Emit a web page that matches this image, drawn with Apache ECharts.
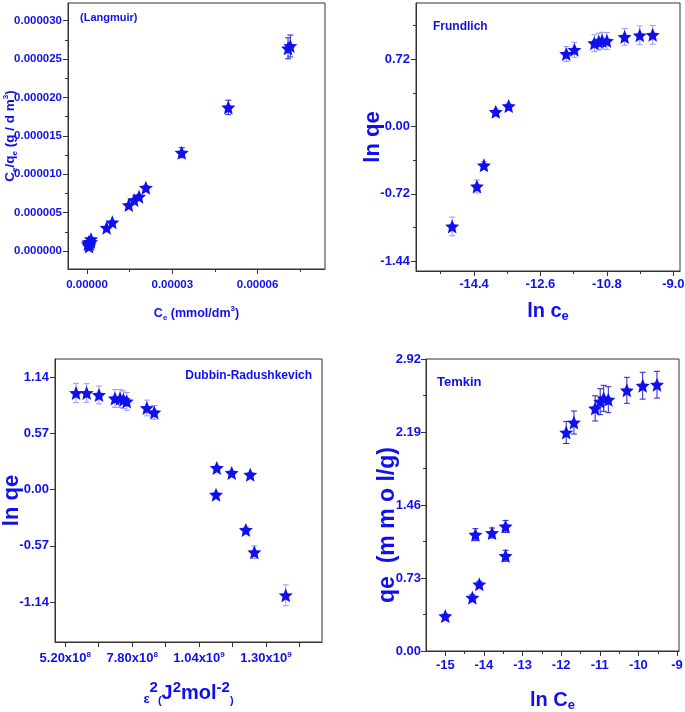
<!DOCTYPE html>
<html><head><meta charset="utf-8">
<script src="https://cdn.jsdelivr.net/npm/echarts@6/dist/echarts.min.js"></script>
<style>html,body{margin:0;padding:0;background:#fff}#c{width:685px;height:712px}</style>
</head><body><div id="c"></div>
<script>
// ---------- data ----------
const langCe  = [3.0e-7, 6.0e-7, 7.0e-7, 7.0e-7, 1.0e-6, 1.4e-6, 1.4e-6, 6.9e-6, 8.9e-6, 1.47e-5, 1.66e-5, 1.83e-5, 2.07e-5, 3.33e-5, 4.97e-5, 7.07e-5, 7.15e-5];
const langY   = [9.0e-7, 1.15e-6, 1.1e-6, 6.0e-7, 9.0e-7, 1.2e-6, 1.55e-6, 3.03e-6, 3.74e-6, 5.99e-6, 6.64e-6, 7.07e-6, 8.24e-6, 1.28e-5, 1.87e-5, 2.64e-5, 2.67e-5];
const langErr = [2e-8, 3e-8, 3e-8, 3e-8, 3e-8, 4e-8, 5e-8, 1.0e-7, 1.2e-7, 2.0e-7, 2.2e-7, 2.3e-7, 2.7e-7, 6.5e-7, 9.4e-7, 1.37e-6, 1.43e-6];

const freLnCe = [-14.99, -14.32, -14.13, -13.81, -13.46, -11.90, -11.68, -11.14, -11.02, -10.93, -10.80, -10.32, -9.91, -9.56];
const freLnQe = [-1.068, -0.64, -0.415, 0.157, 0.218, 0.775, 0.82, 0.89, 0.907, 0.917, 0.914, 0.957, 0.975, 0.98];
const freErr  = [0.10, 0.07, 0.04, 0.03, 0.03, 0.08, 0.08, 0.09, 0.09, 0.09, 0.09, 0.09, 0.10, 0.10];

const drEps2  = [5.62e8, 6.03e8, 6.51e8, 7.13e8, 7.33e8, 7.46e8, 7.59e8, 8.37e8, 8.66e8, 1.109e9, 1.106e9, 1.167e9, 1.239e9, 1.222e9, 1.255e9, 1.377e9];
const drLnQe  = [0.98, 0.98, 0.96, 0.925, 0.925, 0.912, 0.895, 0.828, 0.783, 0.22, -0.051, 0.169, 0.152, -0.409, -0.635, -1.071];
const drErr   = [0.098, 0.095, 0.09, 0.09, 0.09, 0.09, 0.09, 0.08, 0.07, 0.02, 0.02, 0.02, 0.02, 0.03, 0.064, 0.106];

const temLnCe = [-15.0, -14.30, -14.12, -14.22, -13.79, -13.44, -13.44, -11.87, -11.67, -11.12, -10.99, -10.90, -10.78, -10.30, -9.89, -9.52];
const temQe   = [0.349, 0.533, 0.667, 1.163, 1.18, 1.246, 0.952, 2.185, 2.285, 2.426, 2.493, 2.527, 2.513, 2.607, 2.653, 2.663];
const temErr  = [0.02, 0.03, 0.03, 0.06, 0.05, 0.06, 0.055, 0.11, 0.115, 0.126, 0.13, 0.13, 0.13, 0.13, 0.134, 0.134];

// ---------- ticks ----------
const langXTicks = [0, 0.00003, 0.00006];
const langXMinor = [0.000015, 0.000045, 0.000075];
const langYTicks = [0, 0.000005, 0.00001, 0.000015, 0.00002, 0.000025, 0.00003];
const langYMinor = [0.0000025, 0.0000075, 0.0000125, 0.0000175, 0.0000225, 0.0000275];

const freXTicks = [-14.4, -12.6, -10.8, -9.0];
const freXMinor = [-15.3, -13.5, -11.7, -9.9];
const freYTicks = [-1.44, -0.72, 0, 0.72];
const freYMinor = [-1.08, -0.36, 0.36, 1.08];

const drXLabels = [5.2e8, 7.8e8, 1.04e9, 1.3e9];
const drXTicks  = [5.2e8, 6.5e8, 7.8e8, 9.1e8, 1.04e9, 1.17e9, 1.3e9, 1.43e9];
const drYTicks  = [-1.14, -0.57, 0, 0.57, 1.14];

const temXTicks = [-15, -14, -13, -12, -11, -10, -9];
const temXMinor = [-14.5, -13.5, -12.5, -11.5, -10.5, -9.5];
const temYTicks = [0, 0.73, 1.46, 2.19, 2.92];
const temYMinor = [0.365, 1.095, 1.825, 2.555];

// ---------- style ----------
const BLUE = '#1010ee';
const AX = '#333';
const FN = "'Liberation Sans Narrow','Arial Narrow','Liberation Sans',Arial,sans-serif";
const FA = "'Liberation Sans',Arial,sans-serif";
const STAR = 'path://M0,-10 L2.7,-3.7 L9.51,-3.09 L4.35,1.41 L5.88,8.09 L0,4.6 L-5.88,8.09 L-4.35,1.41 L-9.51,-3.09 L-2.7,-3.7 Z';

function base(kind, gi, min, max) {
  return {type: 'value', gridIndex: gi, min: min, max: max, position: kind === 'x' ? 'bottom' : 'left',
    nameMoveOverlap: false,
    splitLine: {show: false}, axisLine: {show: true, onZero: false, lineStyle: {color: AX, width: 1}}};
}
function mainAxis(kind, gi, min, max, ticks, labels, fmt, lab, nm) {
  const a = base(kind, gi, min, max);
  a.axisTick = {show: true, inside: false, length: 5, customValues: ticks, lineStyle: {color: AX}};
  a.axisLabel = Object.assign({show: true, customValues: labels, formatter: fmt, color: BLUE, fontWeight: 'bold'}, lab);
  if (nm) {
    a.name = nm.text; a.nameLocation = 'middle'; a.nameGap = nm.gap;
    a.nameRotate = kind === 'y' ? 90 : 0;
    a.nameTextStyle = nm.style;
  }
  return a;
}
function minorAxis(kind, gi, min, max, ticks) {
  const a = base(kind, gi, min, max);
  a.axisLine = {show: false, onZero: false};
  a.axisTick = {show: true, inside: false, length: 3, customValues: ticks, lineStyle: {color: AX}};
  a.axisLabel = {show: false};
  return a;
}
function rich(size, subSize) {
  return {
    n: {fontSize: size, fontWeight: 'bold', color: BLUE, fontFamily: FA, lineHeight: size + 4},
    sub: {fontSize: subSize, fontWeight: 'bold', color: BLUE, fontFamily: FA, lineHeight: subSize, verticalAlign: 'bottom'},
    sup: {fontSize: subSize, fontWeight: 'bold', color: BLUE, fontFamily: FA, lineHeight: subSize, verticalAlign: 'top'}
  };
}
const sciFmt = v => { const e = Math.floor(Math.log10(v) + 1e-9); const m = v / Math.pow(10, e); return '{a|' + m.toFixed(2) + 'x10}{s|' + e + '}'; };

const grids = [
  {left: 68, top: 3, width: 257, height: 266},
  {left: 416, top: 3, width: 264, height: 268},
  {left: 55, top: 359, width: 267, height: 283},
  {left: 426, top: 359, width: 253, height: 292}
].map(g => Object.assign(g, {show: true, borderColor: AX, borderWidth: 1, backgroundColor: 'transparent',
  containLabel: false, outerBoundsMode: 'none'}));

const xAxes = [
  mainAxis('x', 0, -6.68e-6, 8.37e-5, langXTicks, langXTicks, v => v.toFixed(5),
    {fontFamily: FA, fontSize: 11.5, margin: 10},
    {text: '{n|C}{sub|e}{n| (mmol/dm}{sup|3}{n|)}', gap: 36, style: {rich: rich(12.5, 8)}}),
  mainAxis('x', 1, -15.97, -8.82, freXTicks, freXTicks, v => v.toFixed(1),
    {fontFamily: FN, fontSize: 13, margin: 7},
    {text: '{n|ln c}{sub|e}', gap: 28, style: {rich: rich(20, 13)}}),
  mainAxis('x', 2, 4.80e8, 1.518e9, drXTicks, drXLabels, sciFmt,
    {fontFamily: FN, fontSize: 13, margin: 9, rich: {
      a: {fontFamily: FN, fontSize: 13, fontWeight: 'bold', color: BLUE, lineHeight: 15},
      s: {fontFamily: FN, fontSize: 8, fontWeight: 'bold', color: BLUE, lineHeight: 8, verticalAlign: 'top'}}},
    {text: '{e|ε}{s|2}{p|(}{n|J}{s|2}{n|mol}{s|-2}{p|)}', gap: 38, style: {rich: {
      e: {fontSize: 13, fontWeight: 'bold', color: BLUE, fontFamily: FA, lineHeight: 14, verticalAlign: 'bottom'},
      s: {fontSize: 15, fontWeight: 'bold', color: BLUE, fontFamily: FN, lineHeight: 16, verticalAlign: 'top'},
      p: {fontSize: 11, fontWeight: 'bold', color: BLUE, fontFamily: FN, lineHeight: 10, verticalAlign: 'bottom'},
      n: {fontSize: 20, fontWeight: 'bold', color: BLUE, fontFamily: FN, lineHeight: 26}}}}),
  mainAxis('x', 3, -15.5, -8.95, temXTicks, temXTicks, v => String(Math.round(v)),
    {fontFamily: FN, fontSize: 13, margin: 8},
    {text: '{n|ln C}{sub|e}', gap: 37, style: {rich: rich(20, 13)}}),
  minorAxis('x', 0, -6.68e-6, 8.37e-5, langXMinor),
  minorAxis('x', 1, -15.97, -8.82, freXMinor),
  minorAxis('x', 3, -15.5, -8.95, temXMinor)
];
const yAxes = [
  mainAxis('y', 0, -2.34e-6, 3.23e-5, langYTicks, langYTicks, v => v.toFixed(6),
    {fontFamily: FA, fontSize: 11.5, margin: 6},
    {text: '{n|C}{sub|e}{n|/q}{sub|e}{n| (g / d m}{sup|3}{n|)}', gap: 49, style: {rich: rich(13.5, 8)}}),
  mainAxis('y', 1, -1.544, 1.32, freYTicks, freYTicks, v => v.toFixed(2),
    {fontFamily: FN, fontSize: 13, margin: 6},
    {text: 'ln qe', gap: 32, style: {color: BLUE, fontWeight: 'bold', fontSize: 22, fontFamily: FA}}),
  mainAxis('y', 2, -1.545, 1.325, drYTicks, drYTicks, v => v.toFixed(2),
    {fontFamily: FN, fontSize: 13, margin: 6},
    {text: 'ln qe', gap: 32, style: {color: BLUE, fontWeight: 'bold', fontSize: 22, fontFamily: FA}}),
  mainAxis('y', 3, 0, 2.92, temYTicks, temYTicks, v => v.toFixed(2),
    {fontFamily: FN, fontSize: 13, margin: 5},
    {text: 'qe  (m m o l/g)', gap: 27, style: {color: BLUE, fontWeight: 'bold', fontSize: 23, fontFamily: FA, padding: [0, 40, 0, 0]}}),
  minorAxis('y', 0, -2.34e-6, 3.23e-5, langYMinor),
  minorAxis('y', 1, -1.544, 1.32, freYMinor),
  minorAxis('y', 3, 0, 2.92, temYMinor)
];

function errRender(color) {
  return function (params, api) {
    const x = api.value(0), y = api.value(1), e = api.value(2);
    const p1 = api.coord([x, y + e]), p2 = api.coord([x, y - e]);
    const w = 3, st = {stroke: color, lineWidth: 1};
    return {type: 'group', children: [
      {type: 'line', shape: {x1: p1[0], y1: p1[1], x2: p2[0], y2: p2[1]}, style: st},
      {type: 'line', shape: {x1: p1[0] - w, y1: p1[1], x2: p1[0] + w, y2: p1[1]}, style: st},
      {type: 'line', shape: {x1: p2[0] - w, y1: p2[1], x2: p2[0] + w, y2: p2[1]}, style: st}
    ]};
  };
}
const sets = [
  {x: langCe, y: langY, e: langErr, ec: '#2222cc'},
  {x: freLnCe, y: freLnQe, e: freErr, ec: '#9a9af2'},
  {x: drEps2, y: drLnQe, e: drErr, ec: '#9a9af2'},
  {x: temLnCe, y: temQe, e: temErr, ec: '#2222cc'}
];
const series = [];
sets.forEach((s, i) => {
  series.push({type: 'custom', xAxisIndex: i, yAxisIndex: i, z: 2, clip: false,
    renderItem: errRender(s.ec), encode: {x: 0, y: 1},
    data: s.x.map((v, k) => [v, s.y[k], s.e[k]])});
  series.push({type: 'scatter', xAxisIndex: i, yAxisIndex: i, z: 3, symbol: STAR, symbolSize: [14, 14],
    itemStyle: {color: BLUE, opacity: 1}, data: s.x.map((v, k) => [v, s.y[k]])});
});

const txt = (t, x, y, font, align) => ({type: 'text', x: x, y: y, z: 10,
  style: {text: t, fill: BLUE, font: font, verticalAlign: 'middle', align: align || 'left'}});

const chart = echarts.init(document.getElementById('c'), null, {renderer: 'canvas'});
chart.setOption({
  animation: false,
  backgroundColor: '#fff',
  grid: grids,
  xAxis: xAxes,
  yAxis: yAxes,
  series: series,
  graphic: [
    txt('(Langmuir)', 80, 18, "bold 11px " + FA),
    txt('Frundlich', 433, 27, "bold 12px " + FA),
    txt('Dubbin-Radushkevich', 312, 376, "bold 12px " + FN, 'right'),
    txt('Temkin', 437, 382, "bold 13px " + FN)
  ]
});
</script></body></html>
